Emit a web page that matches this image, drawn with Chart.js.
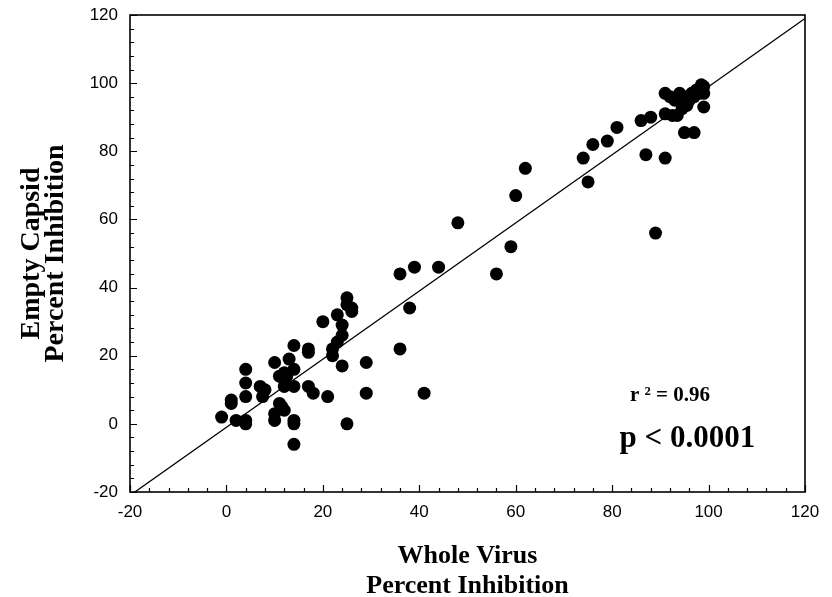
<!DOCTYPE html>
<html>
<head>
<meta charset="utf-8">
<script src="https://cdn.jsdelivr.net/npm/chart.js@4/dist/chart.umd.min.js"></script>
<style>
html,body{margin:0;padding:0;background:#ffffff;}
#wrap{width:832px;height:597px;position:relative;}
</style>
</head>
<body>
<div id="wrap"><canvas id="chart" width="832" height="597"></canvas></div>
<script>
// ---- data ----
const wholeVirus = [
  -1, 1, 1, 2, 4, 4, 4, 4, 4, 7, 8, 7.5, 10, 10, 10, 11, 12, 12.5, 13, 14, 14, 12, 12, 14,
  11, 11.5, 12, 14, 14, 14, 17, 17, 17, 18, 21, 20, 22, 22, 23, 24, 24, 23, 24, 25, 25, 26,
  26, 25, 29, 29,
  36, 39, 44, 48, 38, 36, 41, 56, 59, 60, 62,
  74, 75, 76, 79, 81, 86, 87, 88, 89, 91, 91, 92.5, 93.5, 91, 92, 94, 95, 97, 93, 94.5, 95.5,
  96.5, 97.5, 98.5, 99, 98, 99, 99, 95.5, 94.5, 97, 96, 98
];
const emptyCapsid = [
  2, 7, 6, 1, 1, 0, 16, 12, 8, 11, 10, 8, 18, 3, 1, 14, 15, 14, 19, 23, 16, 13, 11, 11,
  6, 5, 4, 1, 0, -6, 22, 21, 11, 9, 8, 30, 22, 20, 32, 29, 26, 24, 17, 37, 35, 34,
  33, 0, 18, 9,
  44, 46, 46, 59, 34, 22, 9, 44, 52, 67, 75,
  78, 71, 82, 83, 87, 89, 79, 90, 56, 78, 91, 90.5, 90.5, 97, 96, 97, 85.5, 85.5, 95, 94.5, 96,
  97, 98, 99.5, 99, 97, 93, 97, 93.5, 92.5, 96, 95, 98
];
const fitLineX = [-19, 120];
const fitLineY = [-20, 119];
const axisMin = -20;
const axisMax = 120;
const majorStep = 20;
const minorStep = 4;
const xTitleLines = ['Whole Virus', 'Percent Inhibition'];
const yTitleLines = ['Empty Capsid', 'Percent Inhibition'];
const rSquaredText = 'r ² = 0.96';
const pValueText = 'p < 0.0001';
const rSquaredPos = [92, 8.4];
const pValuePos = [95.6, -4.4];

// ---- build library structures ----
const scatterPoints = wholeVirus.map((x, i) => ({x: x, y: emptyCapsid[i]}));
const linePoints = fitLineX.map((x, i) => ({x: x, y: fitLineY[i]}));

const sansFont = "'Liberation Sans', Arial, Helvetica, sans-serif";
const serifFont = "'Liberation Serif', 'Times New Roman', Times, serif";

const frameAndTicks = {
  id: 'frameAndTicks',
  afterDatasetsDraw(chart) {
    const ctx = chart.ctx;
    const a = chart.chartArea;
    const xs = chart.scales.x, ys = chart.scales.y;
    ctx.save();
    ctx.strokeStyle = '#000';
    ctx.lineWidth = 1.2;
    ctx.beginPath();
    xs.ticks.forEach(t => {
      const px = Math.round(xs.getPixelForValue(t.value)) + 0.5;
      const len = (Math.abs(t.value % majorStep) < 1e-9) ? 7 : 4;
      ctx.moveTo(px, a.bottom);
      ctx.lineTo(px, a.bottom - len);
    });
    ys.ticks.forEach(t => {
      const py = Math.round(ys.getPixelForValue(t.value)) + 0.5;
      const len = (Math.abs(t.value % majorStep) < 1e-9) ? 7 : 4;
      ctx.moveTo(a.left, py);
      ctx.lineTo(a.left + len, py);
    });
    ctx.stroke();
    ctx.lineWidth = 1.6;
    ctx.strokeRect(a.left, a.top, a.right - a.left, a.bottom - a.top);
    ctx.restore();
  }
};

const statsText = {
  id: 'statsText',
  afterDraw(chart) {
    const ctx = chart.ctx;
    const xs = chart.scales.x, ys = chart.scales.y;
    ctx.save();
    ctx.fillStyle = '#000';
    ctx.textAlign = 'center';
    ctx.textBaseline = 'middle';
    ctx.font = 'bold 21px ' + serifFont;
    ctx.fillText(rSquaredText, xs.getPixelForValue(rSquaredPos[0]), ys.getPixelForValue(rSquaredPos[1]));
    ctx.font = 'bold 31px ' + serifFont;
    ctx.fillText(pValueText, xs.getPixelForValue(pValuePos[0]), ys.getPixelForValue(pValuePos[1]));
    ctx.restore();
  }
};

const tickLabel = v => (Math.abs(v % majorStep) < 1e-9 ? String(v) : '');

new Chart(document.getElementById('chart'), {
  type: 'scatter',
  data: {
    datasets: [
      {
        type: 'scatter',
        data: scatterPoints,
        backgroundColor: '#000',
        borderColor: '#000',
        borderWidth: 0,
        pointRadius: 6.5,
        pointHoverRadius: 6.5
      },
      {
        type: 'line',
        data: linePoints,
        borderColor: '#000',
        borderWidth: 1.3,
        pointRadius: 0,
        fill: false,
        tension: 0
      }
    ]
  },
  options: {
    responsive: false,
    animation: false,
    devicePixelRatio: 1,
    layout: {padding: {top: 15, right: 27, left: 0, bottom: 0}},
    plugins: {legend: {display: false}, tooltip: {enabled: false}},
    scales: {
      x: {
        type: 'linear',
        position: 'bottom',
        min: axisMin,
        max: axisMax,
        grid: {display: false, drawTicks: false},
        border: {display: false},
        ticks: {
          stepSize: minorStep,
          autoSkip: false,
          maxRotation: 0,
          padding: 10,
          color: '#000',
          font: {family: sansFont, size: 17},
          callback: tickLabel
        },
        title: {
          display: true,
          text: xTitleLines,
          color: '#000',
          font: {family: serifFont, size: 26, weight: 'bold', lineHeight: 1.154},
          padding: {top: 0, bottom: -4}
        },
        afterFit(scale) { scale.height = 105; scale.paddingLeft = 0; scale.paddingRight = 0; }
      },
      y: {
        type: 'linear',
        position: 'left',
        min: axisMin,
        max: axisMax,
        grid: {display: false, drawTicks: false},
        border: {display: false},
        ticks: {
          stepSize: minorStep,
          autoSkip: false,
          padding: 12,
          color: '#000',
          font: {family: sansFont, size: 17},
          callback: tickLabel
        },
        title: {
          display: true,
          text: yTitleLines,
          color: '#000',
          font: {family: serifFont, size: 28, weight: 'bold', lineHeight: 0.85},
          padding: {top: 20, bottom: 0}
        },
        afterFit(scale) { scale.width = 130; scale.paddingTop = 0; scale.paddingBottom = 0; }
      }
    }
  },
  plugins: [frameAndTicks, statsText]
});
</script>
</body>
</html>
